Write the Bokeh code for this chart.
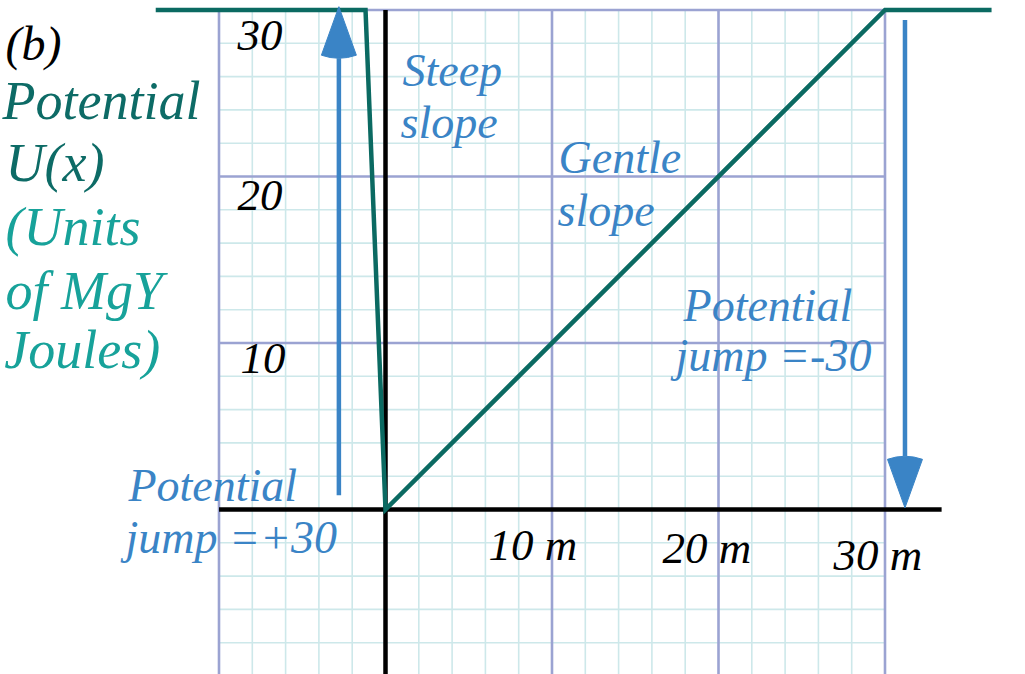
from bokeh.plotting import figure
from bokeh.models import Range1d
from bokeh.core.properties import value
from bokeh.embed import file_html
from bokeh.resources import INLINE

# ---- data -------------------------------------------------------------
# potential energy U(x) (units of MgY joules) against position x (m)
potential_x = [-13.8, -1.2, 0.0, 30.0, 36.4]
potential_y = [30.0, 30.0, 0.0, 30.0, 30.0]

# potential jumps shown as vertical arrows: position, start, end
jump_x = [-2.8, 31.2]
jump_from = [0.85, 29.4]
jump_to = [30.2, 0.1]

# tick labels
y_tick_values = [30, 20, 10]
y_tick_labels = ["30", "20", "10"]
x_tick_values = [10, 20, 30]
x_tick_labels = ["10 m", "20 m", "30 m"]

# graph-paper extent
grid_min, grid_max = -10, 30

# ---- figure -----------------------------------------------------------
SCALE = 16.65  # px per unit
p = figure(width=1025, height=674,
           x_range=Range1d(-385 / SCALE, 640 / SCALE),
           y_range=Range1d(-165 / SCALE, 509 / SCALE),
           x_axis_type=None, y_axis_type=None,
           output_backend="svg", toolbar_location=None,
           min_border=0)
p.grid.visible = False
p.outline_line_color = None
p.background_fill_color = "white"
p.border_fill_color = "white"

SERIF = value("Liberation Serif")
BLUE = "#3a84c6"
TEAL_DARK = "#0d6b66"
TEAL_LIGHT = "#17a29a"
LINE_TEAL = "#0b6a62"
LIFT = 0.9  # raise text baselines slightly

# minor grid every 2 units
minor = [v for v in range(grid_min, grid_max + 1, 2) if v % 10 != 0]
p.segment(x0=minor, y0=[grid_min] * len(minor), x1=minor, y1=[grid_max] * len(minor),
          line_color="#cde8ea", line_width=1.6)
p.segment(x0=[grid_min] * len(minor), y0=minor, x1=[grid_max] * len(minor), y1=minor,
          line_color="#cde8ea", line_width=1.6)

# major grid every 10 units
major = list(range(grid_min, grid_max + 1, 10))
p.segment(x0=major, y0=[grid_min] * len(major), x1=major, y1=[grid_max] * len(major),
          line_color="#9ba3d2", line_width=2.6)
p.segment(x0=[grid_min] * len(major), y0=major, x1=[grid_max] * len(major), y1=major,
          line_color="#9ba3d2", line_width=2.6)

# axes
p.segment(x0=[grid_min], y0=[0], x1=[33.4], y1=[0], line_color="black", line_width=4.5)
p.segment(x0=[0], y0=[grid_min - 1], x1=[0], y1=[grid_max], line_color="black", line_width=4.5)

# potential curve
p.line(potential_x, potential_y, line_color=LINE_TEAL, line_width=4.5, line_join="miter")

# jump arrows
head_len, head_half = 3.1, 1.05
for x, y0, y1 in zip(jump_x, jump_from, jump_to):
    d = 1 if y1 > y0 else -1
    base = y1 - d * head_len
    p.segment(x0=[x], y0=[y0], x1=[x], y1=[base], line_color=BLUE, line_width=4.5)
    hx = [x, x - head_half, x - head_half * 0.5, x, x + head_half * 0.5, x + head_half]
    hy = [y1, y1 - d * head_len * 0.94, y1 - d * head_len * 0.985, y1 - d * head_len,
          y1 - d * head_len * 0.985, y1 - d * head_len * 0.94]
    p.patch(hx, hy, fill_color=BLUE, line_color=BLUE, line_width=1)


def lift(ys):
    return [y + LIFT for y in ys]


# tick labels
p.text(x=[-8.89, -8.89, -8.71], y=lift([27.57, 17.96, 8.17]), text=y_tick_labels,
       text_font=SERIF, text_font_style="italic", text_font_size="45px",
       text_color="black", text_baseline="alphabetic")
p.text(x=[6.19, 16.64, 26.91], y=lift([-3.06, -3.24, -3.66]), text=x_tick_labels,
       text_font=SERIF, text_font_style="italic", text_font_size="45px",
       text_color="black", text_baseline="alphabetic")

# panel tag and y-axis title
p.text(x=[-22.82], y=lift([27.09]), text=["(b)"], text_font=SERIF, text_font_style="italic",
       text_font_size="48px", text_color="black", text_baseline="alphabetic")
p.text(x=[-23.0, -22.82], y=lift([23.66, 19.94]), text=["Potential", "U(x)"],
       text_font=SERIF, text_font_style="italic", text_font_size="54px",
       text_color=TEAL_DARK, text_baseline="alphabetic")
p.text(x=[-22.82, -22.82, -22.9], y=lift([16.04, 12.25, 8.65]),
       text=["(Units", "of  MgY", "Joules)"],
       text_font=SERIF, text_font_style="italic", text_font_size="54px",
       text_color=TEAL_LIGHT, text_baseline="alphabetic")

# annotations
notes = ["Steep", "slope", "Gentle", "slope", "Potential", "jump =-30",
         "Potential", "jump =+30"]
note_x = [1.02, 0.90, 10.39, 10.33, 17.90, 17.42, -15.44, -15.62]
note_y = [25.47, 22.34, 20.24, 17.06, 11.35, 8.35, 0.54, -2.58]
p.text(x=note_x, y=lift(note_y), text=notes, text_font=SERIF, text_font_style="italic",
       text_font_size="46px", text_color=BLUE, text_baseline="alphabetic")

open("out.html", "w").write(file_html(p, INLINE))
